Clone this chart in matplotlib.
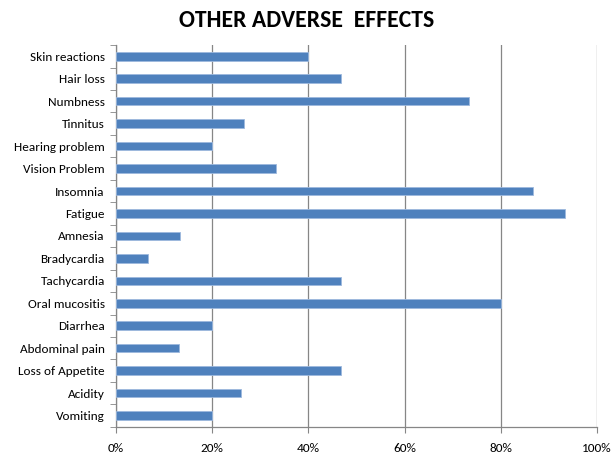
import matplotlib
matplotlib.use("Agg")
import matplotlib.pyplot as plt
from matplotlib.ticker import FixedLocator, PercentFormatter
import numpy as np

categories = ["Skin reactions", "Hair loss", "Numbness", "Tinnitus", "Hearing problem",
              "Vision Problem", "Insomnia", "Fatigue", "Amnesia", "Bradycardia",
              "Tachycardia", "Oral mucositis", "Diarrhea", "Abdominal pain",
              "Loss of Appetite", "Acidity", "Vomiting"]
values = [40.0, 46.7, 73.3, 26.7, 20.0, 33.3, 86.7, 93.3, 13.3, 6.7,
          46.7, 80.0, 20.0, 13.1, 46.7, 26.0, 20.0]
xticks = [0, 20, 40, 60, 80, 100]

plt.rcParams['font.family'] = ['Carlito', 'Liberation Sans Narrow', 'Open Sans', 'DejaVu Sans']

fig = plt.figure(figsize=(6.13, 4.55), dpi=100)
ax = fig.add_axes([0.189, 0.062, 0.785, 0.839])

n = len(categories)
y = np.arange(n)[::-1]
ax.barh(y, values, height=0.38, color="#4F81BD", edgecolor="#9DB9DE", linewidth=0.6, zorder=3)

ax.set_xlim(0, 100)
ax.set_ylim(-0.5, n - 0.5)
ax.set_xticks(xticks)
ax.xaxis.set_major_formatter(PercentFormatter(decimals=0))
ax.set_yticks(y)
ax.set_yticklabels(categories)
ax.yaxis.set_minor_locator(FixedLocator(np.arange(-0.5, n, 1.0)))
ax.tick_params(axis='y', which='major', length=0, pad=8, labelsize=9.5)
ax.tick_params(axis='y', which='minor', length=4, color="#868686", direction='out')
ax.tick_params(axis='x', which='major', length=4, color="#868686", labelsize=9.5, pad=8)

ax.grid(axis='x', color="#868686", linewidth=0.9, zorder=0)
for s in ['top', 'right']:
    ax.spines[s].set_visible(False)
for s in ['left', 'bottom']:
    ax.spines[s].set_color("#868686")
    ax.spines[s].set_linewidth(0.9)

fig.text(0.5, 0.955, "OTHER ADVERSE  EFFECTS", ha='center', va='center',
         fontsize=17, fontweight='bold')

fig.savefig("out.png", dpi=100)
